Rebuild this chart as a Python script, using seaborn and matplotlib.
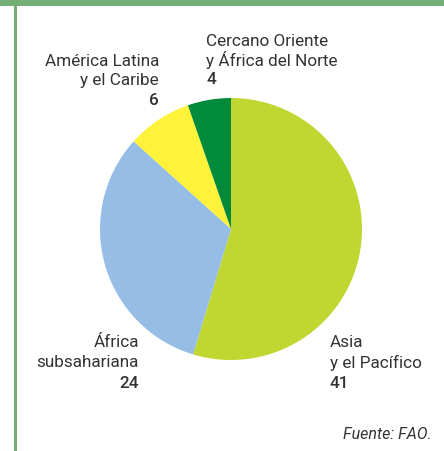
import matplotlib
matplotlib.use("Agg")
import matplotlib.pyplot as plt
import seaborn as sns
from matplotlib.patches import Rectangle

sns.set_theme(style="white")
plt.rcParams['font.family'] = ['Roboto', 'DejaVu Sans']

regions = ["Asia\ny el Pacífico", "África\nsubsahariana", "América Latina\ny el Caribe",
           "Cercano Oriente\ny África del Norte"]
values = [41, 24, 6, 4]
colors = ["#BFD730", "#95BDE5", "#FFF23A", "#008A3B"]
source = "Fuente: FAO."

W, H = 444, 452
fig = plt.figure(figsize=(W / 100, H / 100), dpi=100)
fig.patch.set_facecolor("white")

# border
border = "#72AE76"
fig.patches.append(Rectangle((0, 1 - 7 / H), 1, 7 / H, transform=fig.transFigure,
                             facecolor=border, edgecolor="none"))
fig.patches.append(Rectangle((14 / W, 0), 2.5 / W, 1, transform=fig.transFigure,
                             facecolor=border, edgecolor="none"))

cx, cy, r = 231, 230, 131
ax = fig.add_axes([(cx - r) / W, (H - cy - r) / H, 2 * r / W, 2 * r / H])
ax.pie(values, colors=colors, startangle=90, counterclock=False, radius=1,
       wedgeprops=dict(linewidth=0))
ax.set_xlim(-1, 1)
ax.set_ylim(-1, 1)
ax.set_aspect("auto")
ax.axis("off")

tc = "#333333"
fs = 12.3

def t(px, py, s, ha, bold=False, italic=False, size=fs):
    fig.text(px / W, 1 - py / H, s, ha=ha, va="center", fontsize=size, color=tc,
             fontweight=500 if bold else "normal",
             fontstyle="italic" if italic else "normal")

# Cercano Oriente
lines = regions[3].split("\n")
t(206, 41, lines[0], "left")
t(206, 60, lines[1], "left")
t(206, 80, str(values[3]), "left", bold=True)
# América Latina
lines = regions[2].split("\n")
t(159, 61, lines[0], "right")
t(159, 81, lines[1], "right")
t(159, 101, str(values[2]), "right", bold=True)
# África subsahariana
lines = regions[1].split("\n")
t(139, 343, lines[0], "right")
t(139, 363, lines[1], "right")
t(139, 384, str(values[1]), "right", bold=True)
# Asia
lines = regions[0].split("\n")
t(330, 343, lines[0], "left")
t(330, 363, lines[1], "left")
t(330, 384, str(values[0]), "left", bold=True)

t(432, 435, source, "right", italic=True, size=11.5)

fig.savefig("out.png", dpi=100)
